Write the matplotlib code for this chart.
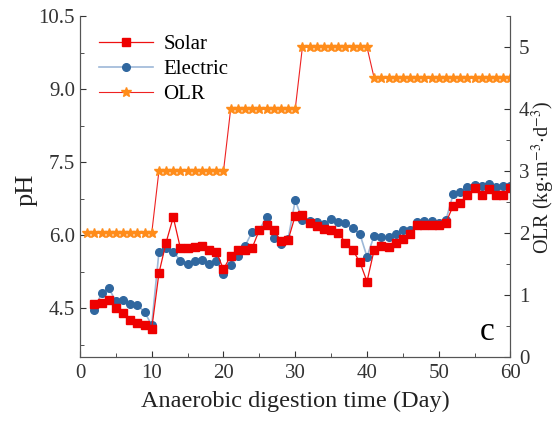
import numpy as np
import matplotlib.pyplot as plt
from matplotlib.ticker import MultipleLocator

plt.rcParams.update({'font.family': 'Liberation Serif', 'mathtext.fontset': 'stix'})

days = list(range(2, 61))
solar = [4.59, 4.61, 4.68, 4.50, 4.40, 4.26, 4.19, 4.15, 4.08, 5.22,
         5.85, 6.37, 5.73, 5.73, 5.75, 5.78, 5.69, 5.66, 5.30, 5.58,
         5.69, 5.70, 5.74, 6.11, 6.22, 6.11, 5.88, 5.90, 6.40, 6.41,
         6.26, 6.19, 6.12, 6.10, 6.05, 5.85, 5.70, 5.45, 5.05, 5.70,
         5.78, 5.75, 5.85, 5.93, 6.02, 6.22, 6.21, 6.22, 6.21, 6.26,
         6.60, 6.67, 6.82, 6.96, 6.82, 6.94, 6.82, 6.82, 6.98]
electric = [4.47, 4.81, 4.92, 4.64, 4.67, 4.59, 4.57, 4.42, 4.16, 5.65,
            5.73, 5.66, 5.48, 5.40, 5.48, 5.49, 5.41, 5.48, 5.20, 5.39,
            5.58, 5.78, 6.07, 6.11, 6.37, 5.94, 5.83, 5.92, 6.72, 6.31,
            6.29, 6.28, 6.24, 6.33, 6.28, 6.25, 6.14, 6.03, 5.56, 5.99,
            5.97, 5.96, 6.02, 6.11, 6.11, 6.27, 6.29, 6.29, 6.26, 6.31,
            6.84, 6.89, 6.99, 7.04, 7.02, 7.06, 6.99, 7.02, 7.01]
olr_days = list(range(1, 61))
olr = [2] * 10 + [3] * 10 + [4] * 10 + [5] * 10 + [4.5] * 20

fig = plt.figure(figsize=(5.57, 4.23), dpi=100)
ax = fig.add_axes([0.1436, 0.156, 0.7729, 0.806])
ax2 = ax.twinx()

l1, = ax.plot(days, solar, color='#EE1111', lw=0.9, marker='s', ms=5.5,
              mfc='#EE0000', mec='#EE0000', label='Solar', zorder=3)
l2, = ax.plot(days, electric, color='#9DB8D8', lw=1.2, marker='o', ms=5.5,
              mfc='#30679F', mec='#30679F', label='Electric', zorder=2)
l3, = ax2.plot(olr_days, olr, color='#EE2222', lw=0.8, marker='*', ms=7,
               mfc='#FF8C1A', mec='#FF8C1A', label='OLR')

ax.set_xlim(0, 60)
ax.set_ylim(3.5, 10.5)
ax2.set_ylim(0, 5.5)
ax.xaxis.set_major_locator(MultipleLocator(10))
ax.xaxis.set_minor_locator(MultipleLocator(5))
ax.yaxis.set_major_locator(MultipleLocator(1.5))
ax.yaxis.set_minor_locator(MultipleLocator(0.75))
ax2.yaxis.set_major_locator(MultipleLocator(1))
ax2.yaxis.set_minor_locator(MultipleLocator(0.5))
ax.set_yticks([4.5, 6.0, 7.5, 9.0, 10.5])
ax.set_yticklabels(['4.5', '6.0', '7.5', '9.0', '10.5'])

for a in (ax, ax2):
    a.spines['top'].set_visible(False)
    for s in a.spines.values():
        s.set_color('#555555')
    a.tick_params(which='both', direction='in', labelsize=15, colors='#333333')
    a.tick_params(which='major', length=4)
    a.tick_params(which='minor', length=3)
ax.tick_params(axis='x', pad=5)
ax2.tick_params(axis='y', pad=6)

ax.set_xlabel('Anaerobic digestion time (Day)', fontsize=17.5, color='#222222', labelpad=6)
ax.set_ylabel('pH', fontsize=19, color='#222222')
ax.yaxis.set_label_coords(-0.098, 0.49)
ax2.set_ylabel(r'OLR (kg$\cdot$m$^{-3}$$\cdot$d$^{-3}$)', fontsize=14.5, color='#222222')
ax2.yaxis.set_label_coords(1.045, 0.525)

ax.text(0.945, 0.075, 'c', transform=ax.transAxes, fontsize=24, ha='center', va='center')

ax.legend(handles=[l1, l2, l3], loc='upper left', frameon=False, fontsize=15,
          handlelength=2.6, borderaxespad=0.5, labelspacing=0.25, handletextpad=0.5)

fig.savefig('out.png', dpi=100)
